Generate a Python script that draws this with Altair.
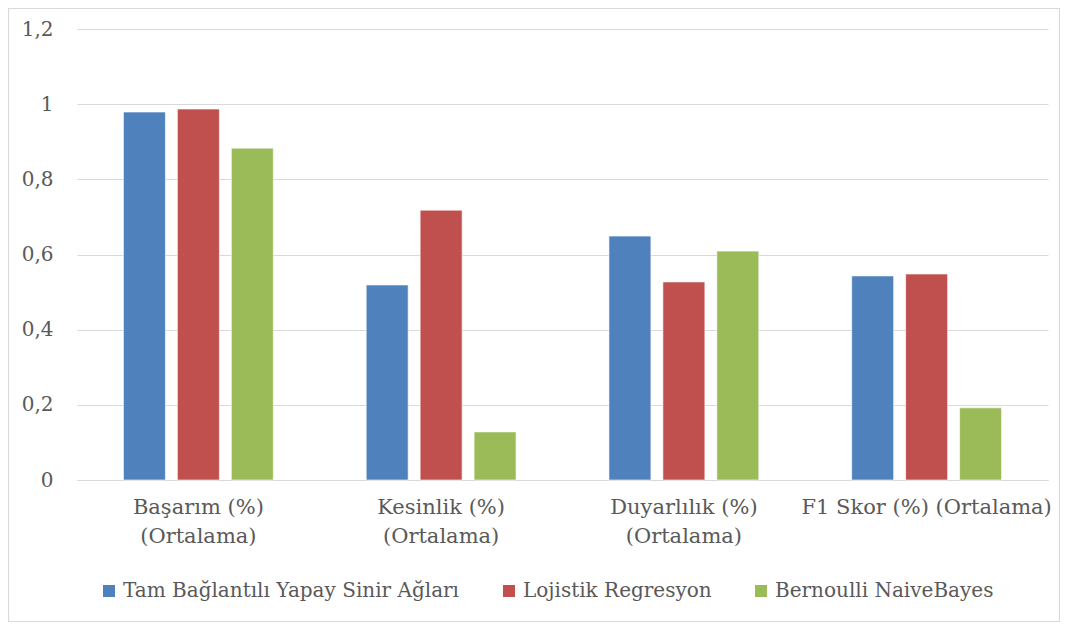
import altair as alt
import pandas as pd

categories = ["Başarım (%)\n(Ortalama)", "Kesinlik (%)\n(Ortalama)",
              "Duyarlılık (%)\n(Ortalama)", "F1 Skor (%) (Ortalama)"]
models = ["Tam Bağlantılı Yapay Sinir Ağları", "Lojistik Regresyon", "Bernoulli NaiveBayes"]
colors = ["#4F81BD", "#C0504D", "#9BBB59"]
ysa = [0.979, 0.519, 0.649, 0.543]
lojistik = [0.987, 0.718, 0.527, 0.548]
bernoulli = [0.883, 0.128, 0.609, 0.192]

rows = []
for i, c in enumerate(categories):
    for m, vals in zip(models, [ysa, lojistik, bernoulli]):
        rows.append({"kategori": c, "model": m, "deger": vals[i]})
df = pd.DataFrame(rows)

FONT = "DejaVu Serif"
W, H = 971, 451
PL, PT, PR, PB = 69, 21, 12, 142

bars = alt.Chart(df).mark_bar(stroke="white", strokeWidth=0.6).encode(
    x=alt.X("kategori:N", sort=categories, title=None,
            scale=alt.Scale(paddingInner=0, paddingOuter=0),
            axis=alt.Axis(labelAngle=0, ticks=False, domain=True, domainColor="#d9d9d9",
                          labelExpr="split(datum.label, '\\n')", labelFont=FONT,
                          labelFontSize=21, labelColor="#595959", labelPadding=16,
                          labelLineHeight=29, labelBaseline="top", grid=False,
                          labelLimit=600)),
    xOffset=alt.XOffset("model:N", sort=models,
                        scale=alt.Scale(paddingInner=0.222, paddingOuter=0.861)),
    y=alt.Y("deger:Q", title=None,
            scale=alt.Scale(domain=[0, 1.2], nice=False),
            axis=alt.Axis(values=[0, 0.2, 0.4, 0.6, 0.8, 1.0, 1.2], ticks=False, domain=False,
                          gridColor="#d9d9d9", gridWidth=1,
                          labelExpr="replace(format(datum.value, '.1~f'), '.', ',')",
                          labelFont=FONT, labelFontSize=20, labelColor="#595959",
                          labelPadding=24)),
    color=alt.Color("model:N", sort=models, title=None,
                    scale=alt.Scale(domain=models, range=colors),
                    legend=alt.Legend(orient="none", direction="horizontal",
                                      legendX=22, legendY=552, symbolType="square",
                                      symbolSize=144, symbolStrokeWidth=0,
                                      labelFont=FONT, labelFontSize=20, labelColor="#595959",
                                      labelOffset=4, columnPadding=39, labelLimit=600)),
)

border = alt.Chart(pd.DataFrame({"k": [0]})).mark_rect(
    fill=None, stroke="#d9d9d9", strokeWidth=1.2
).encode(
    x=alt.value(-PL + 0.5), x2=alt.value(W + PR - 0.5),
    y=alt.value(-PT + 0.5), y2=alt.value(H + PB - 0.5),
)

chart = alt.layer(border, bars).properties(
    width=W, height=H,
    autosize=alt.AutoSizeParams(type="none"),
    padding={"left": PL, "top": PT, "right": PR, "bottom": PB},
    background="white",
).configure_view(stroke=None)

chart.save("out.html", embed_options={"renderer": "svg", "actions": False})
